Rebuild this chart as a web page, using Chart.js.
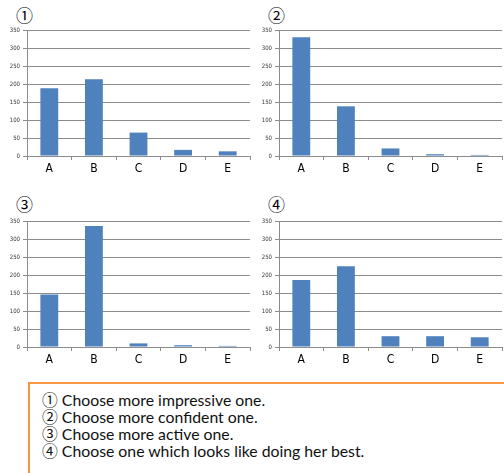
<!DOCTYPE html>
<html>
<head>
<meta charset="utf-8">
<script src="https://cdn.jsdelivr.net/npm/chart.js@4.4.0/dist/chart.umd.min.js"></script>
<style>
  html, body { margin: 0; padding: 0; background: #fff; }
  body { width: 504px; height: 473px; position: relative; overflow: hidden; }
  .panel { position: absolute; }
  .num { position: absolute; font-family: "Noto Sans CJK JP", "DejaVu Sans", sans-serif; font-size: 17px; line-height: 17px; color: #000; }
  .note { position: absolute; left: 28px; top: 382px; width: 500px; height: 120px;
          border: 2px solid #f79646; box-sizing: border-box; }
  .note div { position: absolute; left: 12px; font-family: "Lato", "Open Sans", sans-serif; font-size: 15.8px; line-height: 17px; color: #111; white-space: nowrap; }
  .note span { font-family: "Noto Sans CJK JP", "DejaVu Sans", sans-serif; }
</style>
</head>
<body>
<div class="num" style="left:16px; top:6px;">①</div>
<div class="num" style="left:268px; top:6px;">②</div>
<div class="num" style="left:16px; top:195px;">③</div>
<div class="num" style="left:268px; top:195px;">④</div>

<canvas id="c1" class="panel" width="252" height="165" style="left:0; top:20px;"></canvas>
<canvas id="c2" class="panel" width="252" height="165" style="left:252px; top:20px;"></canvas>
<canvas id="c3" class="panel" width="252" height="165" style="left:0; top:211px;"></canvas>
<canvas id="c4" class="panel" width="252" height="165" style="left:252px; top:211px;"></canvas>

<div class="note">
  <div style="top:7px;"><span>①</span> Choose more impressive one.</div>
  <div style="top:24px;"><span>②</span> Choose more confident one.</div>
  <div style="top:41px;"><span>③</span> Choose more active one.</div>
  <div style="top:58px;"><span>④</span> Choose one which looks like doing her best.</div>
</div>

<script>
// Answer options and the number of votes for each question
const categories = ["A", "B", "C", "D", "E"];
const impressive = [188, 213, 65, 17, 13];
const confident  = [330, 138, 21, 5, 3];
const active     = [146, 336, 10, 5, 3];
const doingBest  = [186, 224, 30, 30, 27];
const yTicks = [0, 50, 100, 150, 200, 250, 300, 350];

const barColor = "#4f81bd";
const gridColor = "#8c8c8c";

function makeChart(id, values) {
  new Chart(document.getElementById(id), {
    type: "bar",
    data: {
      labels: categories,
      datasets: [{
        data: values,
        backgroundColor: barColor,
        borderWidth: 0,
        barPercentage: 0.4,
        categoryPercentage: 1.0
      }]
    },
    options: {
      responsive: false,
      animation: false,
      devicePixelRatio: 1,
      layout: { padding: { top: 10, right: 2, left: 0, bottom: 0 } },
      plugins: { legend: { display: false }, tooltip: { enabled: false } },
      scales: {
        x: {
          grid: { display: true, drawOnChartArea: false, drawTicks: true, tickLength: 4, color: gridColor, offset: true },
          border: { color: gridColor, width: 1 },
          ticks: { color: "#000", padding: 2, font: { family: "DejaVu Sans Condensed", size: 12 } },
          afterFit: s => { s.height = 29; }
        },
        y: {
          min: 0, max: 350,
          afterBuildTicks: s => { s.ticks = yTicks.map(v => ({ value: v })); },
          grid: { color: gridColor, lineWidth: 1, drawTicks: true, tickLength: 4 },
          border: { color: gridColor, width: 1 },
          ticks: { color: "#333", padding: 3, font: { family: "DejaVu Sans Condensed", size: 6 } },
          afterFit: s => { s.width = 27; }
        }
      }
    }
  });
}

makeChart("c1", impressive);
makeChart("c2", confident);
makeChart("c3", active);
makeChart("c4", doingBest);
</script>
</body>
</html>
